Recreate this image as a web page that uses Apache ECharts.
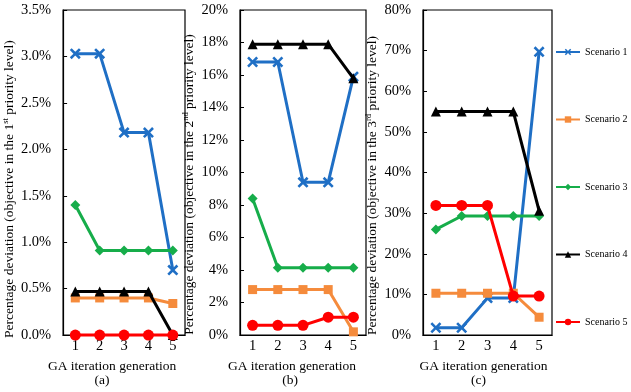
<!DOCTYPE html>
<html>
<head>
<meta charset="utf-8">
<script src="https://cdn.jsdelivr.net/npm/echarts@6/dist/echarts.min.js"></script>
<style>
html,body{margin:0;padding:0;background:#fff;}
#chart{width:631px;height:392px;}
</style>
</head>
<body>
<div id="chart"></div>
<script>
// ---- data ----
const categories = ['1', '2', '3', '4', '5'];
const scenarioNames = ['Scenario 1', 'Scenario 2', 'Scenario 3', 'Scenario 4', 'Scenario 5'];

// Panel (a): % deviation, objective in the 1st priority level
const a_s1 = [3.03, 3.03, 2.18, 2.18, 0.70];
const a_s2 = [0.40, 0.40, 0.40, 0.40, 0.34];
const a_s3 = [1.40, 0.91, 0.91, 0.91, 0.91];
const a_s4 = [0.47, 0.47, 0.47, 0.47, 0.00];
const a_s5 = [0.00, 0.00, 0.00, 0.00, 0.00];

// Panel (b): 2nd priority level
const b_s1 = [16.8, 16.8, 9.4, 9.4, 15.9];
const b_s2 = [2.8, 2.8, 2.8, 2.8, 0.2];
const b_s3 = [8.4, 4.15, 4.15, 4.15, 4.15];
const b_s4 = [17.9, 17.9, 17.9, 17.9, 15.8];
const b_s5 = [0.6, 0.6, 0.6, 1.1, 1.1];

// Panel (c): 3rd priority level
const c_s1 = [1.8, 1.8, 9.1, 9.1, 69.7];
const c_s2 = [10.3, 10.3, 10.3, 10.3, 4.4];
const c_s3 = [26.0, 29.3, 29.3, 29.3, 29.3];
const c_s4 = [55.0, 55.0, 55.0, 55.0, 30.6];
const c_s5 = [31.9, 31.9, 31.9, 9.6, 9.6];

const panelLabels = ['(a)', '(b)', '(c)'];
const ordinals = [['1', 'st'], ['2', 'nd'], ['3', 'rd']];

// ---- styling ----
const FONT = 'Liberation Serif';
const colors = ['#1F6FC5', '#F58B3C', '#16AD4A', '#000000', '#FF0000'];
const XPATH = 'path://M2,0 L6,4 L10,0 L12,2 L8,6 L12,10 L10,12 L6,8 L2,12 L0,10 L4,6 L0,2 Z';
const symbols = [XPATH, 'rect', 'diamond', 'triangle', 'circle'];
const symbolSizes = [11, 9, 10, 10, 11];

const panels = [
  {data: [a_s1, a_s2, a_s3, a_s4, a_s5], max: 3.5, interval: 0.5, dec: 1,
   grid: {left: 59, top: 10, width: 126, height: 331},
   yGap: 36, yPad: 33, tPad: 24, lPad: 44},
  {data: [b_s1, b_s2, b_s3, b_s4, b_s5], max: 20, interval: 2, dec: 0,
   grid: {left: 240, top: 10, width: 126, height: 330},
   yGap: 29, yPad: 24, tPad: 22, lPad: 26},
  {data: [c_s1, c_s2, c_s3, c_s4, c_s5], max: 80, interval: 10, dec: 0,
   grid: {left: 423, top: 10, width: 129, height: 330},
   yGap: 19, yPad: 26, tPad: 8, lPad: 18}
];

const grids = [], xAxes = [], yAxes = [], series = [];
panels.forEach((p, pi) => {
  grids.push(Object.assign({show: true, borderColor: '#000', borderWidth: 1.2, backgroundColor: 'transparent'}, p.grid));
  xAxes.push({
    type: 'category', gridIndex: pi, data: categories, boundaryGap: true,
    axisLine: {show: true, lineStyle: {color: '#000', width: 1.2}},
    axisTick: {show: false},
    axisLabel: {color: '#000', fontFamily: FONT, fontSize: 14.5, margin: 4},
    name: '{t|GA iteration generation}\n{l|' + panelLabels[pi] + '}',
    nameLocation: 'middle', nameGap: 18,
    nameTextStyle: {
      color: '#000', fontFamily: FONT, fontSize: 13.5, lineHeight: 14,
      rich: {
        t: {fontFamily: FONT, fontSize: 13.5, color: '#000', lineHeight: 14, padding: [0, p.tPad, 0, 0]},
        l: {fontFamily: FONT, fontSize: 13.5, color: '#000', lineHeight: 14, padding: [0, p.lPad, 0, 0]}
      }
    }
  });
  yAxes.push({
    type: 'value', gridIndex: pi, min: 0, max: p.max, interval: p.interval,
    axisLine: {show: true, lineStyle: {color: '#000', width: 1.2}},
    axisTick: {show: true, inside: true, length: 4, lineStyle: {color: '#000'}},
    splitLine: {show: false},
    axisLabel: {color: '#000', fontFamily: FONT, fontSize: 14.5, margin: 12,
      formatter: v => v.toFixed(p.dec) + '%'},
    name: 'Percentage deviation (objective in the ' + ordinals[pi][0] + '{sup|' + ordinals[pi][1] + '} priority level)',
    nameLocation: 'middle', nameGap: p.yGap,
    nameTextStyle: {
      color: '#000', fontFamily: FONT, fontSize: 13.5, lineHeight: 16,
      padding: [0, p.yPad, 0, 0],
      rich: {sup: {fontFamily: FONT, fontSize: 8.5, color: '#000', verticalAlign: 'top', lineHeight: 16, padding: [0, 0, 6, 0]}}
    }
  });
  p.data.forEach((arr, si) => {
    series.push({
      name: scenarioNames[si], type: 'line', xAxisIndex: pi, yAxisIndex: pi,
      data: arr, clip: false,
      symbol: symbols[si], symbolSize: symbolSizes[si],
      lineStyle: {color: colors[si], width: 3},
      itemStyle: {color: colors[si], borderWidth: 0},
      z: 2 + si,
      animation: false
    });
  });
});

const chart = echarts.init(document.getElementById('chart'), null, {renderer: 'canvas'});
chart.setOption({
  animation: false,
  backgroundColor: '#fff',
  grid: grids,
  xAxis: xAxes,
  yAxis: yAxes,
  legend: {
    data: scenarioNames, orient: 'vertical', left: 550, top: 42, padding: 5,
    itemWidth: 24, itemHeight: 8, itemGap: 57.5,
    textStyle: {color: '#000', fontFamily: FONT, fontSize: 10}
  },
  series: series
});
</script>
</body>
</html>
